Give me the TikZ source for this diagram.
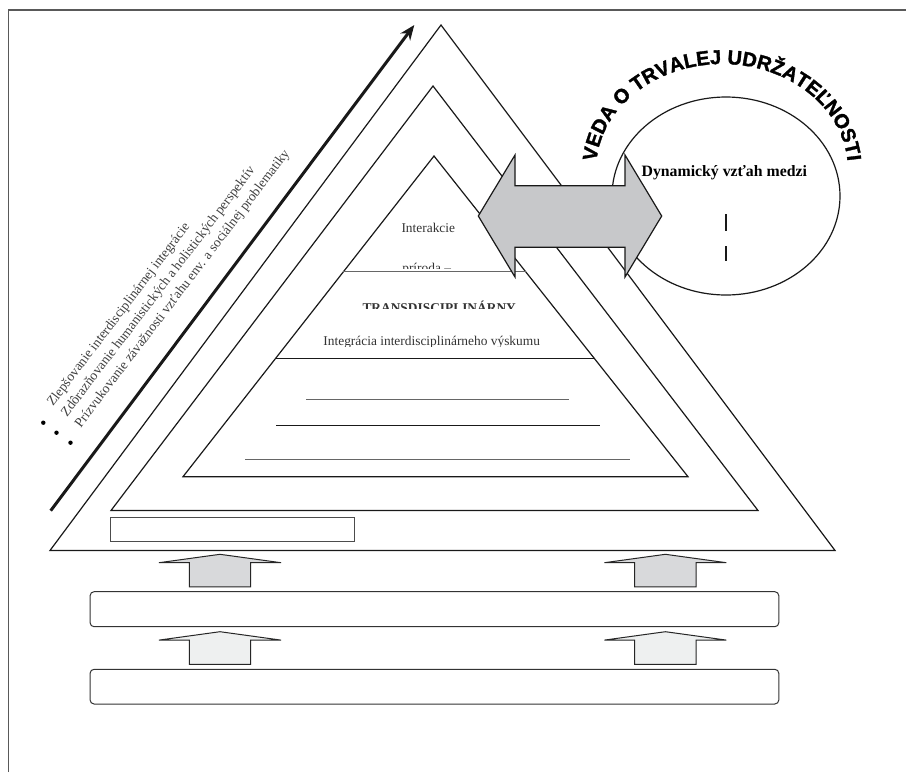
\documentclass[tikz,border=0pt]{standalone}
\usepackage{fontspec}
\setmainfont{Liberation Serif}
\newfontfamily\arcfont[BoldFeatures={FakeBold=1.6}]{Liberation Sans}
\usetikzlibrary{arrows.meta,decorations.text}
\definecolor{arrowgray}{HTML}{C7C8CA}
\definecolor{upgray}{HTML}{D8D9DB}
\definecolor{uplight}{HTML}{EEF0F0}
\begin{document}
\begin{tikzpicture}[x=1pt,y=-1pt,
  tri/.style={draw=black!90,line width=1.2pt,line join=miter},
  rule/.style={draw=black!60,line width=1pt},
  darkrule/.style={draw=black!90,line width=1pt},
  blockarrow/.style={draw=black!85,line width=1pt,line join=miter},
  bar/.style={draw=black!80,line width=1pt,rounded corners=4pt},
  lbl/.style={font=\fontsize{13.4}{15}\selectfont,text=black!80,inner sep=0pt},
  slant/.style={font=\fontsize{13.6}{15}\selectfont,text=black!75,inner sep=0pt,anchor=base west,rotate=52.7},
  dot/.style={circle,fill=black,inner sep=0pt,minimum size=4.4pt},
  uparr/.pic={\path[blockarrow,pic actions] (-61,8.4) -- (0,0) -- (61,8.4) -- (30.7,8.4) -- (30.7,32.6) -- (-30.7,32.6) -- (-30.7,8.4) -- cycle;}
]
\useasboundingbox (0,0) rectangle (906,772);
\fill[white] (0,0) rectangle (906,772);
% frame (top and left edges)
\draw[black!65,line width=1.5pt] (8.5,772) -- (8.5,10) -- (906,10);

% nested triangles
\draw[tri] (441,25) -- (835,550.5) -- (50,550.5) -- cycle;
\draw[tri] (433,86) -- (758,510.5) -- (111,510.5) -- cycle;
\draw[tri] (434,156) -- (688,476.7) -- (183,476.7) -- cycle;

% levels inside the inner triangle
\draw[rule] (343.4,271.7) -- (525.6,271.7);
\draw[darkrule] (275.7,358.3) -- (594.2,358.3);
\draw[rule] (306,399) -- (569,399);
\draw[darkrule] (276,425.7) -- (600,425.7);
\draw[rule] (245,459.3) -- (630,459.3);

% level texts
\node[lbl,anchor=base] (t1) at (428.3,232.2) {Interakcie};
\begin{scope}
  \clip (300,255) rectangle (560,268.5);
  \node[lbl,anchor=base] (t2) at (426.7,272) {príroda –};
\end{scope}
\begin{scope}
  \clip (300,290) rectangle (580,308.5);
  \node[lbl,anchor=base,font=\bfseries\fontsize{13.4}{15}\selectfont] (t3) at (439.2,312.2) {TRANSDISCIPLINÁRNY};
\end{scope}
\begin{scope}
  \clip (280,325) rectangle (600,346.3);
  \node[lbl,anchor=base] (t4) at (431.7,345.6) {Integrácia interdisciplinárneho výskumu};
\end{scope}

% rising arrow with the slanted list
\coordinate (ar0) at (50.7,510.7);
\coordinate (ar1) at (414.3,25);
\draw[black!90,line width=3pt,-{Stealth[length=15pt,width=12pt]}] (ar0) -- (ar1);
\node[slant] (s1) at (53,407) {Zlepšovanie interdisciplinárnej integrácie};
\node[slant] (s2) at (66.9,417.6) {Zdôrazňovanie humanistických a holistických perspektív};
\node[slant] (s3) at (80.8,428.2) {Prízvukovanie závažnosti vzťahu env. a sociálnej problematiky};
\node[dot] (b1) at (43.3,422.7) {};
\node[dot] (b2) at (56.5,432.7) {};
\node[dot] (b3) at (70.5,442.7) {};

% small box at the base
\draw[black!70,line width=1pt] (110.7,517) rectangle (354,541.5);

% block arrows and bars below
\pic[fill=upgray] at (220,554.3) {uparr};
\pic[fill=upgray] at (665.4,554.3) {uparr};
\draw[bar] (90.1,591.7) rectangle (778.8,626.7);
\pic[fill=uplight] at (220,631.7) {uparr};
\pic[fill=uplight] at (665.4,631.7) {uparr};
\draw[bar] (90.1,669.3) rectangle (778.8,704);

% sustainability science ellipse
\draw[black!90,line width=1.2pt] (726,196) ellipse [x radius=114, y radius=99];
\node[font=\bfseries\fontsize{15.8}{18}\selectfont,anchor=base,inner sep=0pt] (dyn) at (724.3,176.5) {Dynamický vzťah medzi};
\draw[black!90,line width=1.3pt] (726,214) -- (726,230.7);
\draw[black!90,line width=1.3pt] (726,246) -- (726,260.7);

% double arrow
\draw[fill=arrowgray,draw=black!90,line width=1.2pt,line join=miter]
  (478.3,216) -- (515,155) -- (515,185.7) -- (625,185.7) -- (625,155) -- (661.7,216)
  -- (625,277) -- (625,247.3) -- (515,247.3) -- (515,277) -- cycle;

% curved title
\path[decorate,decoration={text along path,text align=center,
  text={|\arcfont\bfseries\fontsize{20}{24}\selectfont|VEDA O TRVALEJ UDRŽATEĽNOSTI}}]
  plot[domain=172:368,samples=180,variable=\t] ({722+126*cos(\t)},{170+106*sin(\t)});
\end{tikzpicture}
\end{document}
